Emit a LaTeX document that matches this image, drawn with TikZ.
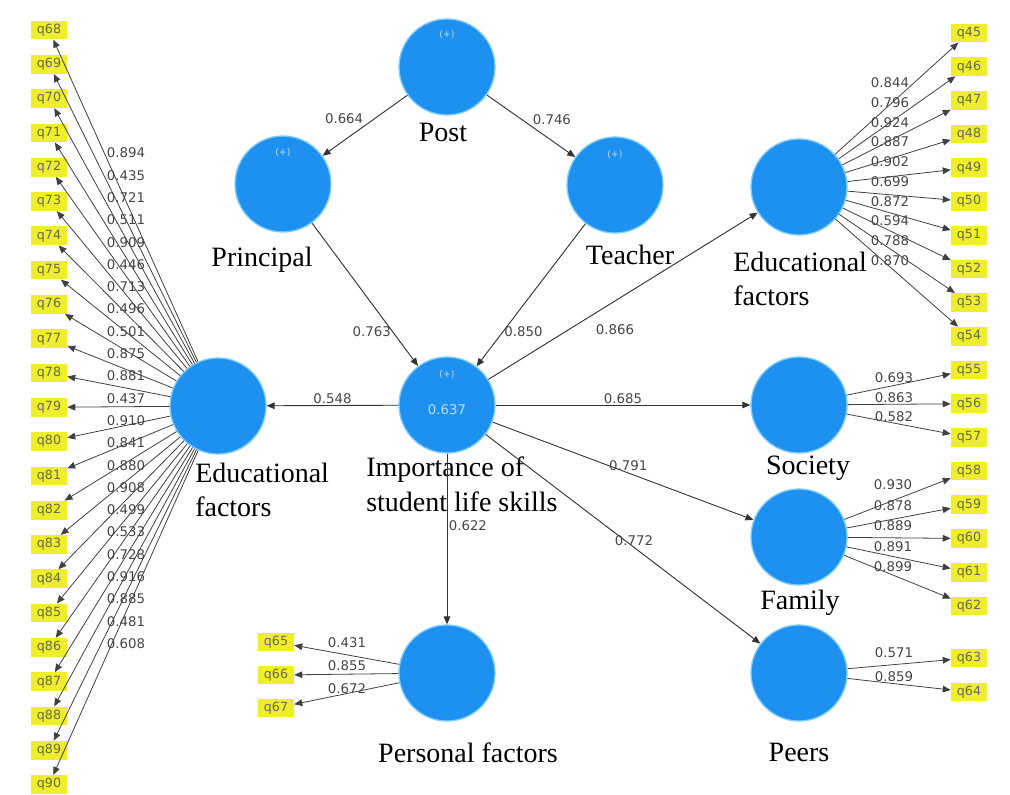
\documentclass[tikz,border=0pt]{standalone}
\usepackage{fontspec}
\setmainfont{Liberation Serif}
\newfontfamily\numfont{DejaVu Sans}
\usetikzlibrary{arrows.meta,calc}
\definecolor{plsblue}{RGB}{30,144,240}
\definecolor{plsrim}{RGB}{125,205,250}
\definecolor{indyellow}{RGB}{238,238,45}
\definecolor{indtext}{RGB}{105,105,80}
\definecolor{loadgray}{RGB}{70,70,70}

\begin{document}
\begin{tikzpicture}[x=0.75pt,y=-0.75pt,
    lv/.style={circle,fill=plsblue,draw=plsrim,line width=1pt,minimum size=72pt,inner sep=0pt},
    ind/.style={fill=indyellow,text=indtext,font=\numfont\fontsize{9.5}{10}\selectfont,minimum width=27pt,minimum height=14pt,inner sep=1pt},
    lvname/.style={font=\fontsize{21}{26}\selectfont,align=left,inner sep=0pt},
    val/.style={text=loadgray,font=\numfont\fontsize{10}{12}\selectfont,inner sep=1pt},
    pluslabel/.style={text=white!70!plsblue,font=\numfont\fontsize{7}{8}\selectfont,inner sep=0pt},
    struct/.style={draw=black!80,line width=0.7pt,-{Triangle[length=6pt,width=5pt]}},
    load/.style={draw=black!75,line width=0.6pt,-{Triangle[length=6pt,width=5pt]}}]
    \useasboundingbox (0,0) rectangle (1010,795);

    % constructs
    \node[lv] (post) at (447,67) {};
    \node[lv] (principal) at (283,184) {};
    \node[lv] (teacher) at (615,185) {};
    \node[lv] (isl) at (447,405) {};
    \node[lv] (eduL) at (218,406) {};
    \node[lv] (eduR) at (799,187) {};
    \node[lv] (society) at (799,405) {};
    \node[lv] (family) at (799,537) {};
    \node[lv] (personal) at (447,673) {};
    \node[lv] (peers) at (799,673) {};

    \node[pluslabel] (post-plus) at (447,35) {(+)};
    \node[pluslabel] (principal-plus) at (283,153) {(+)};
    \node[pluslabel] (teacher-plus) at (615,155) {(+)};
    \node[pluslabel] (isl-plus) at (447,375) {(+)};
    \node[pluslabel,font=\numfont\fontsize{10}{12}\selectfont] (isl-r2) at (447,410) {0.637};

    \node[lvname] (post-name) at (443,132) {Post};
    \node[lvname] (principal-name) at (262,260) {Principal};
    \node[lvname] (teacher-name) at (630,255) {Teacher};
    \node[lvname,anchor=west] (eduR-name) at (733,279) {Educational\\factors};
    \node[lvname,anchor=west] (eduL-name) at (195,490) {Educational\\factors};
    \node[lvname,anchor=west] (isl-name) at (366,484) {Importance of\\student life skills};
    \node[lvname] (society-name) at (808,468) {Society};
    \node[lvname] (family-name) at (800,603) {Family};
    \node[lvname] (personal-name) at (468,753) {Personal factors};
    \node[lvname] (peers-name) at (799,752) {Peers};

    % indicators
    \foreach \i [count=\k from 0] in {68,...,90}
        \node[ind] (q\i) at (49,{30+34.3*\k}) {q\i};
    \foreach \i [count=\k from 0] in {45,...,62}
        \node[ind] (q\i) at (969,{33+33.7*\k}) {q\i};
    \node[ind] (q63) at (969,658) {q63};
    \node[ind] (q64) at (969,692) {q64};
    \node[ind] (q65) at (276,642) {q65};
    \node[ind] (q66) at (276,675) {q66};
    \node[ind] (q67) at (276,708) {q67};

    % structural paths
    \draw[struct] (post) -- node[val,above left] (v-pp) {0.664} (principal);
    \draw[struct] (post) -- node[val,above right] (v-pt) {0.746} (teacher);
    \draw[struct] (principal) -- node[val,pos=0.76,left] (v-pi) {0.763} (isl);
    \draw[struct] (teacher) -- node[val,pos=0.76,right] (v-ti) {0.850} (isl);
    \draw[struct] (isl) -- node[val,pos=0.47,below=16pt] (v-ie) {0.866} (eduR);
    \draw[struct] (isl) -- node[val,above] (v-il) {0.548} (eduL);
    \draw[struct] (isl) -- node[val,above] (v-is) {0.685} (society);
    \draw[struct] (isl) -- node[val,pos=0.52,above] (v-if) {0.791} (family);
    \draw[struct] (isl) -- node[val,pos=0.42,right] (v-ipe) {0.622} (personal);
    \draw[struct] (isl) -- node[val,pos=0.54,above] (v-ipr) {0.772} (peers);

    % outer loadings
    \foreach \i/\v [count=\k from 0] in {68/0.894,69/0.435,70/0.721,71/0.511,72/0.909,73/0.446,74/0.713,75/0.496,76/0.501,77/0.875,78/0.881,79/0.437,80/0.910,81/0.841,82/0.880,83/0.908,84/0.499,85/0.533,86/0.728,87/0.916,88/0.885,89/0.481,90/0.608}
        \draw[load] (eduL) -- (q\i);
    \foreach \i/\v [count=\k from 0] in {68/0.894,69/0.435,70/0.721,71/0.511,72/0.909,73/0.446,74/0.713,75/0.496,76/0.501,77/0.875,78/0.881,79/0.437,80/0.910,81/0.841,82/0.880,83/0.908,84/0.499,85/0.533,86/0.728,87/0.916,88/0.885,89/0.481,90/0.608}
        \node[val] (l\i) at (126,{153+22.3*\k}) {\v};
    \foreach \i/\v [count=\k from 0] in {45/0.844,46/0.796,47/0.924,48/0.887,49/0.902,50/0.699,51/0.872,52/0.594,53/0.788,54/0.870}{
        \draw[load] (eduR) -- (q\i);
        \node[val] (l\i) at (890,{83+19.7*\k}) {\v};
    }
    \foreach \i/\v [count=\k from 0] in {55/0.693,56/0.863,57/0.582}{
        \draw[load] (society) -- (q\i);
        \node[val] (l\i) at (894,{378+19.5*\k}) {\v};
    }
    \foreach \i/\v [count=\k from 0] in {58/0.930,59/0.878,60/0.889,61/0.891,62/0.899}{
        \draw[load] (family) -- (q\i);
        \node[val] (l\i) at (893,{485+20.5*\k}) {\v};
    }
    \foreach \i/\v [count=\k from 0] in {63/0.571,64/0.859}{
        \draw[load] (peers) -- (q\i);
        \node[val] (l\i) at (894,{653+24*\k}) {\v};
    }
    \foreach \i/\v [count=\k from 0] in {65/0.431,66/0.855,67/0.672}{
        \draw[load] (personal) -- (q\i);
        \node[val] (l\i) at (347,{643+23*\k}) {\v};
    }
\end{tikzpicture}
\end{document}
